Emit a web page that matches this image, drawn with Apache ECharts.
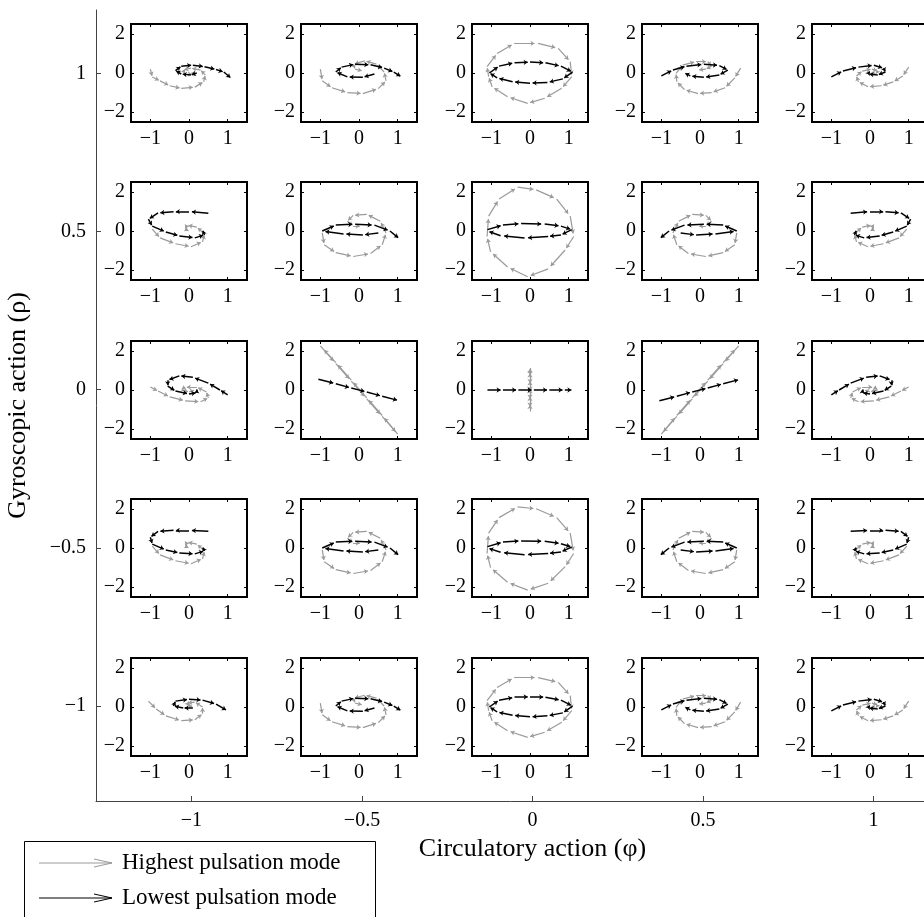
<!DOCTYPE html>
<html>
<head>
<meta charset="utf-8">
<title>Pulsation modes</title>
<script src="https://cdn.jsdelivr.net/npm/echarts@6.0.0/dist/echarts.min.js"></script>
<style>
  html, body { margin: 0; padding: 0; background: #fff; }
  #chart { width: 924px; height: 917px; }
</style>
</head>
<body>
<div id="chart"></div>
<script>
// 外部坐标轴
var phiValues = [-1, -0.5, 0, 0.5, 1];   // columns, circulatory action
var rhoValues = [1, 0.5, 0, -0.5, -1];   // rows, gyroscopic action
var subXTicks = [-1, 0, 1];
var subYTicks = [-2, 0, 2];

// highest pulsation mode (gray), one curve per column
var highRow1 = [
  [[-1.0,0.2],[-0.95,-0.2],[-0.75,-0.4],[-0.5,-0.65],[-0.2,-0.78],[0.15,-0.72],[0.38,-0.45],[0.42,-0.1],[0.3,0.15],[0.05,0.25],[-0.15,0.15],[-0.1,-0.05],[0.1,-0.05],[0.15,0.1]],
  [[-1.0,0.2],[-0.95,-0.4],[-0.7,-0.75],[-0.3,-1.0],[0.1,-1.05],[0.5,-0.8],[0.7,-0.4],[0.65,0.05],[0.45,0.45],[0.15,0.62],[-0.15,0.45],[-0.1,0.2],[0.1,0.1]],
  [[-1.11,0.32],[-0.85,1.0],[-0.41,1.51],[0.21,1.51],[0.73,1.26],[1.04,0.58],[1.08,-0.19],[0.82,-0.78],[0.38,-1.29],[-0.06,-1.55],[-0.58,-1.21],[-0.98,-0.7],[-1.07,-0.19],[-1.11,0.32]],
  [[1.05,0.25],[0.9,-0.25],[0.65,-0.75],[0.3,-1.0],[-0.05,-1.05],[-0.4,-0.85],[-0.6,-0.45],[-0.62,-0.02],[-0.45,0.4],[-0.1,0.58],[0.2,0.58],[0.3,0.35],[0.15,0.2],[-0.05,0.15]],
  [[1.0,0.3],[0.85,-0.15],[0.6,-0.45],[0.3,-0.65],[-0.05,-0.7],[-0.3,-0.45],[-0.35,-0.15],[-0.2,0.1],[0.05,0.2],[0.2,0.1],[0.15,-0.05],[0.0,0.0]]
];
var highRow2 = [
  [[-0.95,0.1],[-0.75,-0.35],[-0.35,-0.65],[0.05,-0.8],[0.35,-0.55],[0.4,-0.15],[0.2,0.2],[-0.05,0.3],[-0.1,0.1],[0.0,0.0]],
  [[-0.95,-0.1],[-0.9,-0.7],[-0.6,-1.1],[-0.15,-1.3],[0.3,-1.15],[0.6,-0.7],[0.7,-0.1],[0.55,0.5],[0.2,0.85],[-0.15,0.8],[-0.3,0.5],[-0.15,0.25],[0.05,0.25]],
  [[-0.8,1.63],[-0.32,2.24],[0.16,2.1],[0.69,1.63],[1.04,0.76],[1.13,-0.28],[0.91,-0.97],[0.47,-1.93],[-0.06,-2.33],[-0.58,-1.84],[-1.02,-1.06],[-1.11,-0.28],[-1.07,0.76],[-0.8,1.63]],
  [[0.95,-0.1],[0.9,-0.7],[0.6,-1.1],[0.15,-1.3],[-0.3,-1.15],[-0.6,-0.7],[-0.7,-0.1],[-0.55,0.5],[-0.2,0.85],[0.15,0.8],[0.3,0.5],[0.15,0.25],[-0.05,0.25]],
  [[0.95,0.1],[0.75,-0.35],[0.35,-0.65],[-0.05,-0.8],[-0.35,-0.55],[-0.4,-0.15],[-0.2,0.2],[0.05,0.3],[0.1,0.1],[0.0,0.0]]
];
var highRow3 = [
  [[-1.0,0.15],[-0.8,-0.05],[-0.5,-0.35],[-0.1,-0.55],[0.3,-0.6],[0.5,-0.4],[0.45,-0.1],[0.2,0.15],[-0.1,0.15],[-0.2,0.0],[0.0,-0.1],[0.15,0.0]],
  [[-1.0,2.25],[-0.6,1.35],[-0.2,0.45],[0.2,-0.45],[0.6,-1.35],[1.0,-2.25],[0.6,-1.3],[0.2,-0.4],[-0.2,0.5],[-0.6,1.4],[-0.95,2.15]],
  [[0,-1.1],[0,-0.7],[0,-0.3],[0,0.1],[0,0.5],[0,0.9],[0,1.12],[0,0.7],[0,0.3],[0,-0.1],[0,-0.5],[0,-0.9]],
  [[1.0,2.25],[0.6,1.35],[0.2,0.45],[-0.2,-0.45],[-0.6,-1.35],[-1.0,-2.25],[-0.6,-1.3],[-0.2,-0.4],[0.2,0.5],[0.6,1.4],[0.95,2.15]],
  [[1.0,0.15],[0.8,-0.05],[0.5,-0.35],[0.1,-0.55],[-0.3,-0.6],[-0.5,-0.4],[-0.45,-0.1],[-0.2,0.15],[0.1,0.15],[0.2,0.0],[0.0,-0.1],[-0.15,0.0]]
];
var highRow4 = [
  [[-0.95,0.1],[-0.75,-0.35],[-0.35,-0.65],[0.05,-0.8],[0.35,-0.55],[0.4,-0.15],[0.2,0.2],[-0.05,0.3],[-0.1,0.1],[0.0,0.0]],
  [[-0.95,-0.1],[-0.9,-0.7],[-0.6,-1.1],[-0.15,-1.3],[0.3,-1.15],[0.6,-0.7],[0.7,-0.1],[0.55,0.5],[0.2,0.85],[-0.15,0.8],[-0.3,0.5],[-0.15,0.25],[0.05,0.25]],
  [[-0.8,1.55],[-0.32,2.1],[0.16,2.0],[0.69,1.55],[1.04,0.76],[1.13,-0.28],[0.91,-0.95],[0.47,-1.8],[-0.06,-2.15],[-0.58,-1.75],[-1.02,-1.0],[-1.11,-0.28],[-1.07,0.76],[-0.8,1.55]],
  [[0.95,-0.1],[0.9,-0.7],[0.6,-1.1],[0.15,-1.3],[-0.3,-1.15],[-0.6,-0.7],[-0.7,-0.1],[-0.55,0.5],[-0.2,0.85],[0.15,0.8],[0.3,0.5],[0.15,0.25],[-0.05,0.25]],
  [[0.95,0.1],[0.75,-0.35],[0.35,-0.65],[-0.05,-0.8],[-0.35,-0.55],[-0.4,-0.15],[-0.2,0.2],[0.05,0.3],[0.1,0.1],[0.0,0.0]]
];
var highRow5 = [
  [[-1.05,0.3],[-0.85,-0.1],[-0.6,-0.45],[-0.2,-0.7],[0.15,-0.65],[0.35,-0.35],[0.35,0.0],[0.15,0.25],[-0.05,0.2],[0.0,0.05],[0.1,0.05]],
  [[-1.0,0.2],[-0.95,-0.4],[-0.7,-0.75],[-0.3,-1.0],[0.1,-1.05],[0.5,-0.8],[0.7,-0.4],[0.65,0.05],[0.45,0.45],[0.15,0.6],[-0.15,0.45],[-0.1,0.2],[0.1,0.1]],
  [[-1.11,0.32],[-0.85,1.0],[-0.41,1.5],[0.21,1.5],[0.73,1.26],[1.04,0.58],[1.08,-0.19],[0.82,-0.78],[0.38,-1.29],[-0.06,-1.55],[-0.58,-1.21],[-0.98,-0.7],[-1.07,-0.19],[-1.11,0.32]],
  [[1.05,0.25],[0.9,-0.25],[0.65,-0.75],[0.3,-1.0],[-0.05,-1.05],[-0.4,-0.85],[-0.6,-0.45],[-0.62,-0.02],[-0.45,0.4],[-0.1,0.58],[0.2,0.58],[0.3,0.35],[0.15,0.2],[-0.05,0.15]],
  [[1.0,0.3],[0.85,-0.15],[0.6,-0.45],[0.3,-0.65],[-0.05,-0.7],[-0.3,-0.45],[-0.35,-0.15],[-0.2,0.1],[0.05,0.2],[0.2,0.1],[0.15,-0.05],[0.0,0.0]]
];

// lowest pulsation mode (black)
var lowRow1 = [
  [[0.2,0.0],[0.05,-0.1],[-0.2,-0.05],[-0.35,0.12],[-0.2,0.35],[0.1,0.4],[0.4,0.32],[0.7,0.18],[0.9,0.05],[1.1,-0.28]],
  [[0.4,-0.05],[0.1,-0.22],[-0.3,-0.2],[-0.6,0.05],[-0.45,0.3],[-0.1,0.45],[0.3,0.42],[0.65,0.25],[0.9,0.05],[1.1,-0.2]],
  [[-1.05,0.0],[-0.8,0.35],[-0.4,0.52],[0.0,0.56],[0.4,0.52],[0.8,0.35],[1.1,0.05],[0.85,-0.3],[0.45,-0.48],[0.0,-0.52],[-0.45,-0.45],[-0.85,-0.25],[-1.05,0.0]],
  [[-1.0,-0.15],[-0.7,0.15],[-0.35,0.35],[0.1,0.45],[0.5,0.38],[0.72,0.15],[0.5,-0.1],[0.1,-0.22],[-0.25,-0.15],[-0.4,0.0]],
  [[-1.0,-0.2],[-0.7,0.1],[-0.3,0.3],[0.1,0.4],[0.35,0.25],[0.4,0.05],[0.2,-0.1],[-0.05,-0.05],[0.0,0.1]]
];
var lowRow2 = [
  [[0.5,0.9],[0.0,1.0],[-0.4,0.98],[-0.8,0.92],[-1.05,0.6],[-0.95,0.25],[-0.6,-0.05],[-0.25,-0.25],[0.15,-0.35],[0.4,-0.2],[0.35,0.05]],
  [[0.5,-0.1],[0.1,-0.2],[-0.4,-0.15],[-0.95,0.0],[-0.6,0.3],[-0.1,0.35],[0.4,0.3],[0.8,0.0],[1.05,-0.4]],
  [[-1.1,0.07],[-0.7,0.3],[-0.23,0.38],[0.38,0.36],[0.8,0.25],[1.08,0.07],[0.8,-0.2],[0.47,-0.28],[-0.14,-0.36],[-0.76,-0.24],[-1.1,0.0]],
  [[-0.5,-0.1],[-0.1,-0.2],[0.4,-0.15],[0.95,0.0],[0.6,0.3],[0.1,0.35],[-0.4,0.3],[-0.8,0.0],[-1.05,-0.4]],
  [[-0.5,0.9],[0.0,1.0],[0.4,0.98],[0.8,0.92],[1.05,0.6],[0.95,0.25],[0.6,-0.05],[0.25,-0.25],[-0.15,-0.35],[-0.4,-0.2],[-0.35,0.05]]
];
var lowRow3 = [
  [[1.0,-0.25],[0.8,0.0],[0.5,0.35],[0.1,0.65],[-0.25,0.72],[-0.55,0.5],[-0.55,0.2],[-0.35,-0.05],[0.0,-0.2],[0.2,-0.15],[0.2,0.05]],
  [[-1.05,0.55],[-0.6,0.32],[-0.2,0.1],[0.2,-0.1],[0.6,-0.32],[1.05,-0.55]],
  [[-1.1,0],[-0.7,0],[-0.3,0],[0.1,0],[0.5,0],[0.9,0],[1.1,0]],
  [[-1.05,-0.55],[-0.6,-0.32],[-0.2,-0.1],[0.2,0.1],[0.6,0.32],[1.05,0.55]],
  [[-1.0,-0.25],[-0.8,0.0],[-0.5,0.35],[-0.1,0.65],[0.25,0.72],[0.55,0.5],[0.55,0.2],[0.35,-0.05],[0.0,-0.2],[-0.2,-0.15],[-0.2,0.05]]
];
var lowRow4 = [
  [[0.5,0.85],[0.0,0.9],[-0.4,0.9],[-0.8,0.85],[-1.0,0.55],[-0.95,0.2],[-0.6,-0.1],[-0.25,-0.25],[0.15,-0.3],[0.4,-0.15],[0.35,0.05]],
  [[0.5,-0.1],[0.1,-0.2],[-0.4,-0.15],[-0.95,0.0],[-0.6,0.3],[-0.1,0.35],[0.4,0.3],[0.8,0.0],[1.05,-0.4]],
  [[-1.1,0.07],[-0.7,0.3],[-0.23,0.36],[0.38,0.34],[0.8,0.22],[1.08,0.05],[0.8,-0.2],[0.47,-0.28],[-0.14,-0.34],[-0.76,-0.22],[-1.1,0.0]],
  [[-0.5,-0.1],[-0.1,-0.2],[0.4,-0.15],[0.95,0.0],[0.6,0.3],[0.1,0.35],[-0.4,0.3],[-0.8,0.0],[-1.05,-0.4]],
  [[-0.5,0.85],[0.0,0.9],[0.4,0.9],[0.8,0.85],[1.0,0.55],[0.95,0.2],[0.6,-0.1],[0.25,-0.25],[-0.15,-0.3],[-0.4,-0.15],[-0.35,0.05]]
];
var lowRow5 = [
  [[0.1,-0.05],[-0.15,-0.05],[-0.4,0.05],[-0.35,0.3],[0.0,0.4],[0.35,0.35],[0.7,0.15],[1.0,-0.2]],
  [[0.4,-0.05],[0.1,-0.22],[-0.3,-0.2],[-0.6,0.05],[-0.45,0.3],[-0.1,0.45],[0.3,0.42],[0.65,0.25],[0.9,0.05],[1.1,-0.2]],
  [[-1.05,0.0],[-0.8,0.35],[-0.4,0.5],[0.0,0.52],[0.4,0.5],[0.8,0.35],[1.1,0.05],[0.85,-0.3],[0.45,-0.45],[0.0,-0.5],[-0.45,-0.42],[-0.85,-0.25],[-1.05,0.0]],
  [[-1.0,-0.15],[-0.7,0.15],[-0.35,0.35],[0.1,0.45],[0.5,0.38],[0.72,0.15],[0.5,-0.1],[0.1,-0.22],[-0.25,-0.15],[-0.4,0.0]],
  [[-1.0,-0.2],[-0.7,0.1],[-0.3,0.3],[0.1,0.4],[0.35,0.25],[0.4,0.05],[0.2,-0.1],[-0.05,-0.05],[0.0,0.1]]
];

var highRows = [highRow1, highRow2, highRow3, highRow4, highRow5];
var lowRows = [lowRow1, lowRow2, lowRow3, lowRow4, lowRow5];

// 布局
var colLeft = [131, 301, 472, 642, 812];
var rowTop = [24, 182, 341, 499, 658];
var boxW = 116, boxH = 98;
var serif = '"Liberation Serif", "DejaVu Serif", serif';
var grayColor = '#9a9a9a';

function fmt(v) {
  return v < 0 ? '\u2212' + (-v) : String(v);
}

// quiver: arrow from each point toward the next one
function quiver(pts) {
  var segs = [];
  for (var i = 0; i < pts.length - 1; i++) {
    var p = pts[i], q = pts[i + 1];
    segs.push({ coords: [p, [p[0] + (q[0] - p[0]) * 0.85, p[1] + (q[1] - p[1]) * 0.85]] });
  }
  return segs;
}

// outer axes run past the right edge of the picture
var grids = [{ left: 96, top: 10, right: -45, bottom: 116, outerBoundsMode: 'none', containLabel: false }];
var xAxes = [{
  gridIndex: 0, type: 'value', min: -1.28, max: 1.28,
  name: 'Circulatory action (\u03c6)', nameLocation: 'middle', nameGap: 33,
  nameTextStyle: { fontFamily: serif, fontSize: 26, color: '#000' },
  axisLine: { onZero: false, lineStyle: { color: '#444', width: 1 } },
  axisTick: { inside: true, length: 5, customValues: phiValues, lineStyle: { color: '#444' } },
  axisLabel: { customValues: phiValues, formatter: fmt, fontFamily: serif, fontSize: 20, color: '#000', margin: 10 },
  splitLine: { show: false }
}];
var yAxes = [{
  gridIndex: 0, type: 'value', min: -1.3, max: 1.2,
  name: 'Gyroscopic action (\u03c1)', nameLocation: 'middle', nameGap: 65, nameRotate: 90,
  nameTextStyle: { fontFamily: serif, fontSize: 26, color: '#000' },
  axisLine: { onZero: false, lineStyle: { color: '#444', width: 1 } },
  axisTick: { inside: true, length: 5, customValues: rhoValues, lineStyle: { color: '#444' } },
  axisLabel: { customValues: rhoValues, formatter: fmt, fontFamily: serif, fontSize: 20, color: '#000', margin: 10 },
  splitLine: { show: false }
}];
var series = [];

for (var r = 0; r < 5; r++) {
  for (var c = 0; c < 5; c++) {
    var gi = grids.length;
    grids.push({
      left: colLeft[c], top: rowTop[r], width: boxW, height: boxH,
      outerBoundsMode: 'none', containLabel: false,
      show: true, borderColor: '#000', borderWidth: 2
    });
    var xi = xAxes.length, yi = yAxes.length;
    ['bottom', 'top'].forEach(function (pos) {
      xAxes.push({
        gridIndex: gi, type: 'value', min: -1.5, max: 1.5, position: pos,
        axisLine: { show: false, onZero: false }, splitLine: { show: false },
        axisTick: { inside: true, length: 3, customValues: subXTicks, lineStyle: { color: '#000' } },
        axisLabel: { show: pos === 'bottom', customValues: subXTicks, formatter: fmt,
          fontFamily: serif, fontSize: 20, color: '#000', margin: 7 }
      });
    });
    ['left', 'right'].forEach(function (pos) {
      yAxes.push({
        gridIndex: gi, type: 'value', min: -2.5, max: 2.5, position: pos,
        axisLine: { show: false, onZero: false }, splitLine: { show: false },
        axisTick: { inside: true, length: 3, customValues: subYTicks, lineStyle: { color: '#000' } },
        axisLabel: { show: pos === 'left', customValues: subYTicks, formatter: fmt,
          fontFamily: serif, fontSize: 20, color: '#000', margin: 6 }
      });
    });
    series.push({
      type: 'lines', coordinateSystem: 'cartesian2d', xAxisIndex: xi, yAxisIndex: yi,
      symbol: ['none', 'arrow'], symbolSize: 4, silent: true,
      lineStyle: { color: grayColor, width: 1.2, opacity: 1 },
      data: quiver(highRows[r][c])
    });
    series.push({
      type: 'lines', coordinateSystem: 'cartesian2d', xAxisIndex: xi, yAxisIndex: yi,
      symbol: ['none', 'arrow'], symbolSize: 4, silent: true,
      lineStyle: { color: '#000', width: 1.5, opacity: 1 },
      data: quiver(lowRows[r][c])
    });
  }
}

var myChart = echarts.init(document.getElementById('chart'));
var option = {
  animation: false,
  backgroundColor: '#fff',
  grid: grids,
  xAxis: xAxes,
  yAxis: yAxes,
  series: series,
  //图例
  graphic: [
    { type: 'rect', shape: { x: 24.5, y: 841.5, width: 351, height: 100 }, style: { fill: '#fff', stroke: '#000', lineWidth: 1 } },
    { type: 'polyline', shape: { points: [[39, 863], [112, 863]] }, style: { stroke: grayColor, lineWidth: 1 } },
    { type: 'polyline', shape: { points: [[94, 859], [112, 863], [94, 867]] }, style: { stroke: grayColor, fill: null, lineWidth: 1 } },
    { type: 'text', style: { text: 'Highest pulsation mode', x: 122, y: 863, verticalAlign: 'middle', font: '23px ' + serif, fill: '#000' } },
    { type: 'polyline', shape: { points: [[39, 898], [112, 898]] }, style: { stroke: '#000', lineWidth: 1 } },
    { type: 'polyline', shape: { points: [[94, 894], [112, 898], [94, 902]] }, style: { stroke: '#000', fill: null, lineWidth: 1 } },
    { type: 'text', style: { text: 'Lowest pulsation mode', x: 122, y: 898, verticalAlign: 'middle', font: '23px ' + serif, fill: '#000' } }
  ]
};
myChart.setOption(option);
</script>
</body>
</html>
